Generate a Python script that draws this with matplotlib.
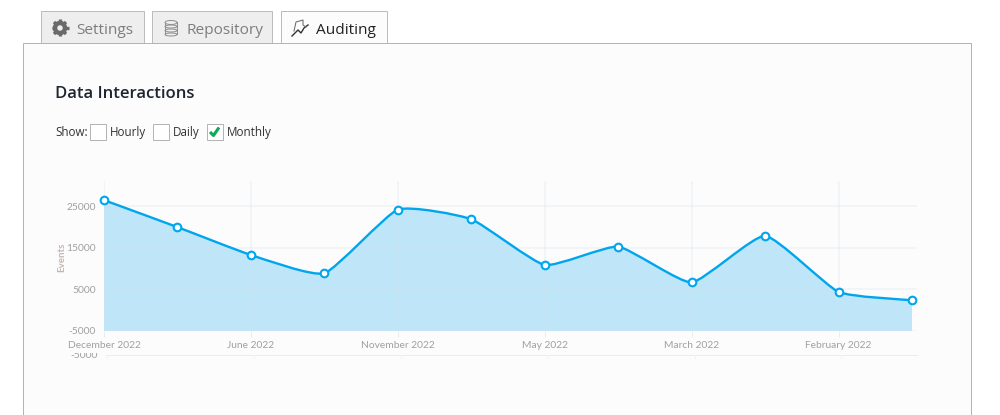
import numpy as np
import matplotlib
matplotlib.use("Agg")
import matplotlib.pyplot as plt
from matplotlib.patches import Rectangle, Ellipse, Circle, PathPatch
from matplotlib.path import Path

# Chart data
events = [26500, 20000, 13300, 8900, 24200, 21900, 10900, 15300, 6700, 17900, 4400, 2400]
month_labels = ["December 2022", "June 2022", "November 2022", "May 2022", "March 2022", "February 2022"]
month_idx = [0, 2, 4, 6, 8, 10]
y_ticks = [-5000, 5000, 15000, 25000]
tab_names = ["Settings", "Repository", "Auditing"]
show_names = ["Hourly", "Daily", "Monthly"]
show_checked = [False, False, True]

BLUE = "#00a6ed"
FILL = "#bfe6f8"
TICK = "#a0a0a0"
FONT = "Open Sans"
CHART_FONT = "Lato"
HAIR = 0.72  # one pixel at dpi 100

plt.rcParams["font.family"] = [FONT, "DejaVu Sans"]
plt.rcParams["axes.unicode_minus"] = False
fig = plt.figure(figsize=(10, 4.15), dpi=100, facecolor="white")


def px_axes(left, top, right, bottom):
    return [left / 1000, 1 - bottom / 415, (right - left) / 1000, (bottom - top) / 415]


# page chrome is drawn in pixel coordinates
bg = fig.add_axes([0, 0, 1, 1])
bg.set_xlim(0, 1000)
bg.set_ylim(415, 0)
bg.axis("off")

bg.add_patch(Rectangle((23, 43), 948, 380, fc="#fcfcfc", ec="#b4b4b4", lw=HAIR, zorder=5))

tab_boxes = [(41, 103), (152, 120), (281, 106)]
tab_text_x = [76, 187, 316]
for i, name in enumerate(tab_names):
    x0, w = tab_boxes[i]
    active = i == 2
    bg.add_patch(Rectangle((x0, 11), w, 32,
                           fc="#fcfcfc" if active else "#eeeeee", ec="#bcbcbc", lw=HAIR, zorder=3))
    bg.text(tab_text_x[i], 30, name, fontsize=11.1, va="center",
            color="#222222" if active else "#7d7d7d", zorder=4)

# tab icons
bg.add_patch(Circle((60, 28), 5, fc="none", ec="#6a6a6a", lw=3.2, zorder=4))
for a in np.deg2rad(np.arange(0, 360, 45)):
    bg.plot([60 + 6 * np.cos(a), 60 + 8.5 * np.cos(a)], [28 + 6 * np.sin(a), 28 + 8.5 * np.sin(a)],
            color="#6a6a6a", lw=2.4, solid_capstyle="butt", zorder=4)
bg.add_patch(Rectangle((165, 22), 12, 13, fc="#eeeeee", ec="none", zorder=4))
bg.add_patch(Ellipse((171, 34.5), 12, 3, fc="#eeeeee", ec="#8f8f8f", lw=HAIR, zorder=4))
for y in [30.5, 26.5]:
    bg.add_patch(Ellipse((171, y), 12, 3, fc="none", ec="#8f8f8f", lw=HAIR, zorder=4))
bg.add_patch(Ellipse((171, 22.5), 12, 4, fc="#eeeeee", ec="#8f8f8f", lw=HAIR, zorder=5))
bg.plot([165, 165], [22.5, 34.5], color="#8f8f8f", lw=HAIR, zorder=4)
bg.plot([177, 177], [22.5, 34.5], color="#8f8f8f", lw=HAIR, zorder=4)
bg.plot([292, 298, 301, 304, 308], [36, 30, 33, 28, 25], color="#333333", lw=1, zorder=4)
bg.plot([294, 296, 303, 303, 306], [31, 22, 20, 25, 27], color="#666666", lw=HAIR, zorder=4)

bg.text(55, 94.5, "Data Interactions", fontsize=12, fontweight="semibold", va="center", color="#1c2530", zorder=6)

# show checkboxes
bg.text(55, 132.5, "Show:", fontsize=8.4, va="center", color="#333333", zorder=6)
box_x = [90, 153, 207]
label_x = [110, 173, 227]
for i, name in enumerate(show_names):
    bg.add_patch(Rectangle((box_x[i], 124), 16, 16, fc="white", ec="#b4b4b4", lw=HAIR, zorder=6))
    bg.text(label_x[i], 132.5, name, fontsize=8.4, va="center", color="#333333", zorder=6)
    if show_checked[i]:
        bg.plot([box_x[i] + 3, box_x[i] + 6.5, box_x[i] + 12],
                [132, 135.5, 127.5], color="#0fa958", lw=2.2, solid_capstyle="butt", zorder=7)

# ghost of the axis sticking out under the chart
bg.plot([106, 917], [354.5, 354.5], color="#e3eef6", lw=HAIR, zorder=6)
for x in [106, 253, 400, 547, 694, 840]:
    bg.plot([x + 0.5, x + 0.5], [355, 358], color="#eef2f5", lw=HAIR, zorder=6)
ghost = bg.text(98, 355.5, "-5000", fontsize=7.4, family=CHART_FONT, ha="right", va="center", color=TICK, zorder=6)
ghost.set_clip_on(True)
ghost.set_clip_path(Rectangle((60, 353), 50, 8, transform=bg.transData))

# chart itself
step = (912 - 104) / 11
ax = fig.add_axes(px_axes(104, 181, 917, 331))
ax.patch.set_alpha(0)
ax.set_xlim(0, 11 + 5 / step)
ax.set_ylim(-5000, 31100)

x = np.arange(len(events))
y = np.array(events, dtype=float)

# smooth line through the points as bezier segments
t = 0.08
verts = [(x[0], y[0])]
codes = [Path.MOVETO]
for i in range(len(x) - 1):
    prev_i = max(i - 1, 0)
    next_i = min(i + 2, len(x) - 1)
    verts.append((x[i] + t * (x[i + 1] - x[prev_i]), y[i] + t * (y[i + 1] - y[prev_i])))
    verts.append((x[i + 1] - t * (x[next_i] - x[i]), y[i + 1] - t * (y[next_i] - y[i])))
    verts.append((x[i + 1], y[i + 1]))
    codes += [Path.CURVE4, Path.CURVE4, Path.CURVE4]

area_verts = verts + [(x[-1], -5000), (x[0], -5000), (x[0], y[0])]
area_codes = codes + [Path.LINETO, Path.LINETO, Path.CLOSEPOLY]
ax.add_patch(PathPatch(Path(area_verts, area_codes), fc=FILL, ec="none", zorder=1))
ax.add_patch(PathPatch(Path(verts, codes), fc="none", ec=BLUE, lw=1.7, zorder=3))
ax.plot(x, y, "o", ms=5.5, mfc="white", mec=BLUE, mew=1.5, ls="none", zorder=4, clip_on=False)

ax.set_axisbelow(False)
ax.grid(True, color="#d5e0e8", alpha=0.3, lw=1.1, zorder=2)
ax.set_yticks(y_ticks)
ax.set_xticks(month_idx)
ax.set_xticklabels(month_labels, family=CHART_FONT)
ax.set_yticklabels([str(v) for v in y_ticks], family=CHART_FONT)
ax.tick_params(axis="x", length=4, width=HAIR, color="#e8edf1", labelsize=7.4, labelcolor=TICK, pad=3)
ax.tick_params(axis="y", length=0, labelsize=7.4, labelcolor=TICK, pad=6)
for s in ax.spines.values():
    s.set_visible(False)
ax.set_ylabel("Events", fontsize=7, family=CHART_FONT, fontweight="bold", color="#c4b6b0")
ax.yaxis.set_label_coords(-38 / 813, 0.49)

fig.savefig("out.png", dpi=100)
